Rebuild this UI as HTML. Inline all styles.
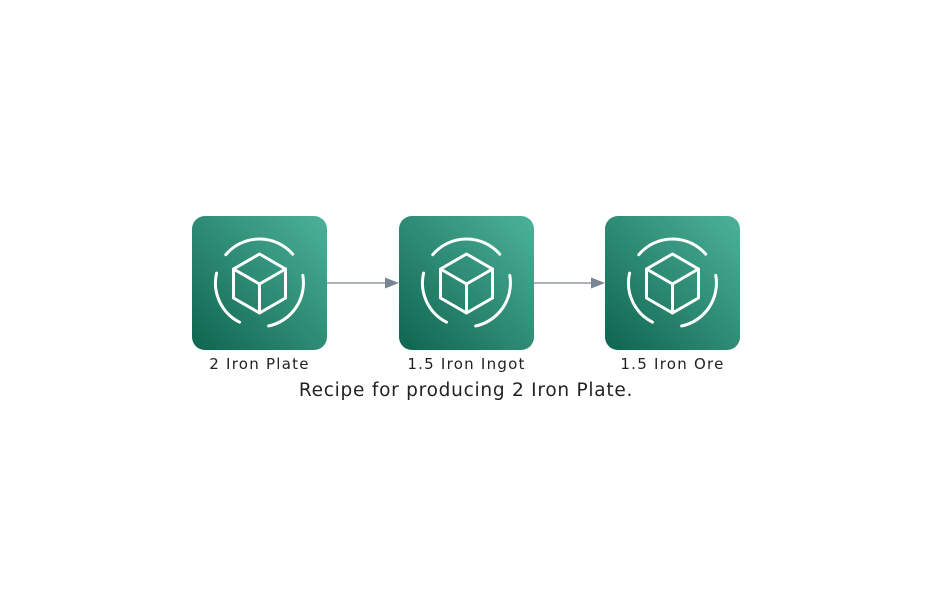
<!DOCTYPE html>
<html><head><meta charset="utf-8"><style>
html,body{margin:0;padding:0;background:#fff;}
svg{display:block;}
text{font-family:"DejaVu Sans","Liberation Sans",sans-serif;fill:#222;}
</style></head><body>
<svg width="932" height="600" viewBox="0 0 932 600" xmlns="http://www.w3.org/2000/svg">
<defs>
<linearGradient id="g" x1="0" y1="1" x2="1" y2="0">
<stop offset="0" stop-color="#0f654f"/>
<stop offset="1" stop-color="#4db29a"/>
</linearGradient>
<g id="icon" fill="none" stroke="#fff" stroke-width="3" stroke-linejoin="round" stroke-linecap="round">
<path d="M33.2 -28.9 A44 44 0 0 0 -33.7 -28.3"/>
<path d="M-42.9 -9.9 A44 44 0 0 0 -20 39.2"/>
<path d="M9.1 43 A44 44 0 0 0 43.3 -7.6"/>
<path d="M0 -29 L26 -14 L26 15 L0 30 L-26 15 L-26 -14 Z"/>
<path d="M-26 -14 L0 1 L26 -14 M0 1 L0 30"/>
</g>
</defs>
<g>
<rect x="192" y="216" width="135" height="134" rx="13" fill="url(#g)"/>
<use href="#icon" x="259.5" y="283"/>
<text x="259.5" y="369" font-size="15" letter-spacing="1.25" text-anchor="middle">2 Iron Plate</text>
</g>
<g>
<rect x="399" y="216" width="135" height="134" rx="13" fill="url(#g)"/>
<use href="#icon" x="466.5" y="283"/>
<text x="466.5" y="369" font-size="15" letter-spacing="1.25" text-anchor="middle">1.5 Iron Ingot</text>
</g>
<g>
<rect x="605" y="216" width="135" height="134" rx="13" fill="url(#g)"/>
<use href="#icon" x="672.5" y="283"/>
<text x="672.5" y="369" font-size="15" letter-spacing="1.25" text-anchor="middle">1.5 Iron Ore</text>
</g>
<g stroke="#7a8593" stroke-width="1.3" fill="#7a8593">
<line x1="327" y1="283" x2="386" y2="283"/>
<path d="M385 277.5 L399 283 L385 288.5 Z" stroke="none"/>
<line x1="534" y1="283" x2="592" y2="283"/>
<path d="M591 277.5 L605 283 L591 288.5 Z" stroke="none"/>
</g>
<text x="466" y="396" font-size="18.5" letter-spacing="0.75" text-anchor="middle">Recipe for producing 2 Iron Plate.</text>
</svg>
</body></html>
